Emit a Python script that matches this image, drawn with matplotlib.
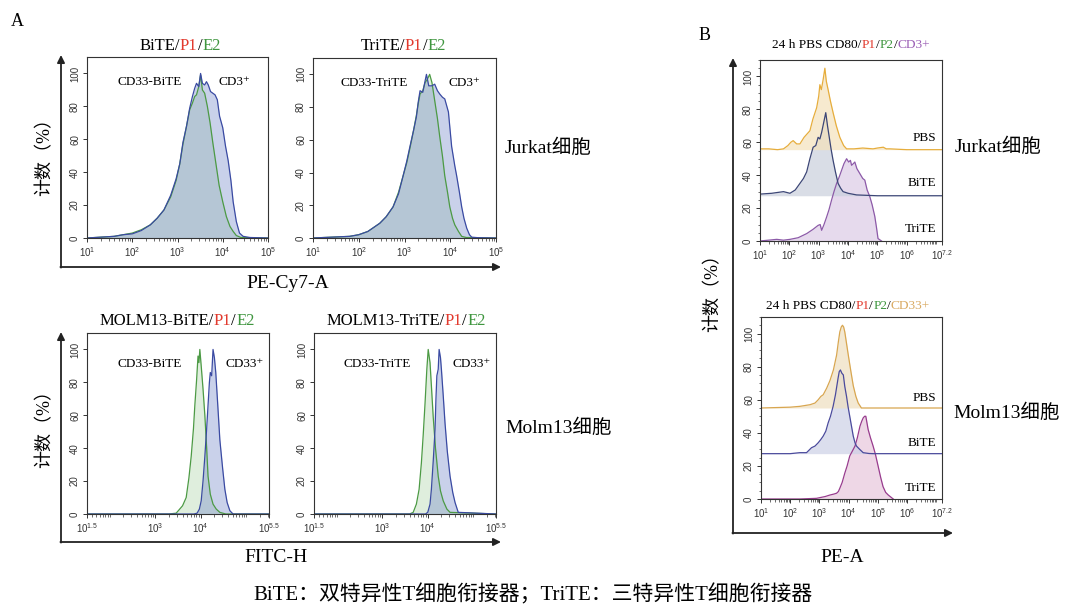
import numpy as np
import matplotlib
matplotlib.use("Agg")
import matplotlib.pyplot as plt
from matplotlib.ticker import FixedLocator, MultipleLocator

# ---- data (x in log10 units, y = count %) ----
# Panel A, Jurkat, BiTE
a1_blue_x = [1.0, 1.3, 1.6, 1.8, 2.0, 2.2, 2.4, 2.55, 2.7, 2.85, 2.97, 3.05, 3.12, 3.2, 3.27, 3.33, 3.38, 3.42, 3.47,
             3.51, 3.55, 3.6, 3.64, 3.68, 3.73, 3.78, 3.83, 3.88, 3.93, 4.0, 4.06, 4.12, 4.18, 4.23, 4.3, 4.37, 4.45,
             4.6, 5.0]
a1_blue_y = [0, 0.5, 1, 2, 2.5, 4.5, 8, 12, 17, 26, 36, 45, 58, 68, 79, 86, 91, 94, 92,
             100, 94, 93, 95, 93, 89, 88, 87, 84, 74, 67, 56, 47, 35, 22, 10, 3, 1, 0.3, 0]
a1_green_x = [1.0, 1.3, 1.6, 1.8, 2.0, 2.2, 2.4, 2.55, 2.7, 2.85, 2.97, 3.05, 3.12, 3.2, 3.27, 3.33, 3.38, 3.42, 3.47,
              3.51, 3.55, 3.6, 3.66, 3.72, 3.78, 3.85, 3.92, 4.0, 4.08, 4.16, 4.23, 4.3, 4.4, 5.0]
a1_green_y = [0, 0.5, 1, 2, 3, 5, 8, 12, 17, 25, 35, 45, 57, 68, 78, 82, 86, 87, 92,
              99, 90, 88, 80, 70, 58, 45, 32, 22, 13, 7, 4, 1.5, 0.3, 0]

# Panel A, Jurkat, TriTE
a2_blue_x = [1.0, 1.4, 1.8, 2.0, 2.2, 2.46, 2.6, 2.75, 2.87, 2.97, 3.05, 3.12, 3.2, 3.26, 3.3, 3.34, 3.4, 3.45, 3.48,
             3.53, 3.6, 3.66, 3.72, 3.77, 3.83, 3.88, 3.96, 4.03, 4.1, 4.14, 4.2, 4.25, 4.3, 4.36, 4.42, 4.47, 4.6, 5.0]
a2_blue_y = [0, 0.5, 1, 2, 4, 9, 13, 19, 27, 38, 47, 56, 66, 74, 83, 90, 89, 96, 100,
             93, 93, 94, 90, 88, 86, 85, 77, 56, 44, 38, 28, 19, 12, 6, 2, 0.5, 0.2, 0]
a2_green_x = [1.0, 1.4, 1.8, 2.0, 2.2, 2.46, 2.6, 2.75, 2.87, 2.97, 3.05, 3.12, 3.2, 3.26, 3.3, 3.34, 3.4, 3.45, 3.5,
              3.55, 3.6, 3.66, 3.72, 3.77, 3.83, 3.88, 3.94, 3.99, 4.05, 4.1, 4.18, 4.25, 4.35, 5.0]
a2_green_y = [0, 0.5, 1, 2, 4, 9, 13, 19, 28, 38, 46, 55, 66, 75, 82, 88, 90, 95, 97,
              100, 95, 84, 73, 62, 50, 38, 28, 19, 12, 8, 4, 1, 0.3, 0]

# Panel A, Molm13, BiTE
a3_green_x = [1.5, 3.3, 3.46, 3.6, 3.68, 3.74, 3.79, 3.84, 3.87, 3.91, 3.94, 3.96, 3.98, 4.01, 4.05, 4.09, 4.13, 4.16,
              4.21, 4.27, 4.34, 4.42, 4.55, 5.5]
a3_green_y = [0, 0, 0.5, 5, 10, 22, 35, 52, 66, 82, 96, 92, 100, 90, 76, 60, 40, 23, 12, 6, 3, 1, 0, 0]
a3_blue_x = [1.5, 3.85, 3.92, 3.97, 4.01, 4.05, 4.09, 4.13, 4.16, 4.19, 4.21, 4.24, 4.27, 4.3, 4.33, 4.37, 4.42, 4.48,
             4.53, 4.58, 4.64, 4.71, 5.5]
a3_blue_y = [0, 0, 0.5, 3, 8, 20, 35, 52, 66, 80, 86, 84, 100, 95, 86, 68, 45, 28, 15, 7, 2, 0, 0]

# Panel A, Molm13, TriTE
a4_green_x = [1.5, 3.6, 3.68, 3.75, 3.81, 3.86, 3.9, 3.94, 3.98, 4.01, 4.03, 4.05, 4.08, 4.12, 4.17, 4.23, 4.28, 4.34,
              4.42, 4.49, 5.5]
a4_green_y = [0, 0, 1, 6, 15, 31, 48, 67, 88, 100, 96, 92, 78, 59, 40, 23, 14, 8, 3, 1, 0]
a4_blue_x = [1.5, 3.95, 4.0, 4.05, 4.08, 4.12, 4.16, 4.18, 4.2, 4.23, 4.25, 4.28, 4.3, 4.34, 4.38, 4.43, 4.49, 4.55,
             4.6, 4.67, 5.5]
a4_blue_y = [0, 0, 1, 6, 15, 32, 51, 70, 84, 88, 100, 95, 88, 72, 55, 38, 23, 13, 7, 1, 0]

# Panel B, Jurkat (offset histograms)
b1_base = [55.5, 27.5, 0]
b1_pbs_x = [1.0, 1.3, 1.6, 1.8, 1.95, 2.05, 2.13, 2.25, 2.36, 2.5, 2.6, 2.7, 2.8, 2.93, 3.0, 3.04, 3.09, 3.15, 3.21,
            3.26, 3.32, 3.4, 3.49, 3.6, 3.72, 3.85, 3.95, 4.2, 4.5, 4.85, 5.0, 5.2, 5.3, 5.42, 6.0, 7.2]
b1_pbs_y = [56, 56, 55.5, 56, 58, 60, 61, 59, 59, 63, 65, 67, 74, 81, 88, 95, 92, 98, 105,
            97, 92, 85, 78, 70, 63, 58, 56, 56, 56.5, 56, 56.5, 57, 56, 56, 55.5, 55.5]
b1_bite_x = [1.0, 1.4, 1.8, 2.02, 2.2, 2.36, 2.48, 2.59, 2.7, 2.81, 2.9, 2.98, 3.04, 3.1, 3.17, 3.24, 3.3, 3.36,
             3.42, 3.49, 3.57, 3.66, 3.75, 3.83, 4.0, 4.29, 5.0, 6.0, 7.2]
b1_bite_y = [28.5, 29, 30, 29, 31, 35, 38, 42, 50, 57, 58, 63, 62, 66, 72, 78, 70, 63,
             56, 49, 42, 35, 32, 30, 29, 28, 27.5, 27.5, 27.5]
b1_trite_x = [1.0, 1.57, 1.8, 2.02, 2.3, 2.59, 2.8, 2.98, 3.05, 3.1, 3.18, 3.27, 3.35, 3.44, 3.52, 3.61, 3.7, 3.78,
              3.86, 3.95, 4.02, 4.08, 4.12, 4.18, 4.23, 4.3, 4.4, 4.5, 4.57, 4.65, 4.74, 4.82, 4.91, 4.97, 5.02, 5.14]
b1_trite_y = [0, 1, 0.5, 1, 2, 4.5, 7, 9.5, 10, 6.5, 10, 14.6, 19, 25, 30, 35, 39, 43,
              47, 50, 48, 49, 46, 47, 48, 44, 41, 38, 37, 31, 27, 22, 15, 8, 1.5, 0]

# Panel B, Molm13 (offset histograms)
b2_base = [55, 27.4, 0]
b2_pbs_x = [1.0, 2.0, 2.33, 2.68, 2.85, 2.96, 3.05, 3.13, 3.25, 3.36, 3.48, 3.59, 3.65, 3.7, 3.75, 3.79, 3.83, 3.87,
            3.93, 3.99, 4.08, 4.16, 4.25, 4.33, 4.44, 5.0, 7.2]
b2_pbs_y = [55, 55.5, 56, 57, 58, 60, 62, 63, 67, 71.5, 78, 87, 95, 101, 104, 105, 104, 101,
            94, 87, 77, 68.5, 62, 58, 55, 55, 55]
b2_bite_x = [1.0, 2.0, 2.33, 2.56, 2.73, 2.85, 2.96, 3.05, 3.13, 3.22, 3.3, 3.38, 3.47, 3.55, 3.64, 3.68, 3.72, 3.77,
             3.82, 3.87, 3.93, 3.98, 4.04, 4.1, 4.16, 4.22, 4.27, 4.38, 4.5, 4.7, 4.84, 7.2]
b2_bite_y = [27.4, 27.4, 28, 28, 31, 32, 34, 36, 38, 41, 46, 50, 56, 63, 73, 77, 78, 76,
             75, 68, 62, 56, 50, 44, 38, 34, 32, 30, 28, 27.5, 27.4, 27.4]
b2_trite_x = [1.0, 2.33, 2.9, 3.2, 3.36, 3.5, 3.59, 3.65, 3.7, 3.78, 3.87, 3.95, 4.04, 4.13, 4.22, 4.3, 4.39, 4.45,
              4.5, 4.55, 4.59, 4.63, 4.67, 4.75, 4.84, 4.92, 5.01, 5.1, 5.18, 5.27, 5.36, 5.53]
b2_trite_y = [0, 0, 0.4, 1.5, 2.4, 3, 3.5, 4.5, 6.5, 10, 15.6, 20, 26, 29, 32, 37, 44, 47,
              49, 50, 50, 46, 42, 37, 32, 27, 20, 13, 7.5, 4, 2.4, 0]

decades_a_top = [1, 2, 3, 4, 5]
decades_a_bottom = [1.5, 3, 4, 5.5]
decades_b = [1, 2, 3, 4, 5, 6, 7.2]
y_ticks = [0, 20, 40, 60, 80, 100]

# ---- styling ----
plt.rcParams['font.family'] = ['Liberation Sans', 'DejaVu Sans']
plt.rcParams['mathtext.fontset'] = 'custom'
plt.rcParams['mathtext.rm'] = 'Liberation Sans'
plt.rcParams['mathtext.default'] = 'rm'
SERIF = ['Liberation Serif', 'DejaVu Serif', 'Noto Sans CJK SC']
RED, GREEN = '#e23a2e', '#3f963f'
BLUE_LINE, GREEN_LINE = '#3a4aa2', '#4c9a44'

W, H = 1066, 609
fig = plt.figure(figsize=(W / 100, H / 100), dpi=100)

# background axes in pixel coordinates for labels and arrows
bg = fig.add_axes([0, 0, 1, 1], zorder=-1)
bg.set_xlim(0, W)
bg.set_ylim(H, 0)
bg.axis('off')


def px_axes(l, t, r, b):
    return fig.add_axes([l / W, 1 - b / H, (r - l) / W, (b - t) / H])


def style(ax, xmin, xmax, labelled, ymin_minor=False):
    ax.set_xlim(xmin, xmax)
    ax.set_ylim(0, 110)
    ax.set_xticks(labelled)
    ax.set_xticklabels([f'$10^{{{v:g}}}$' for v in labelled])
    minors = [np.log10(k) + n for n in range(int(np.floor(xmin)), int(np.ceil(xmax)) + 1)
              for k in range(1, 10)]
    minors = [m for m in minors if xmin <= m <= xmax and all(abs(m - v) > 1e-6 for v in labelled)]
    ax.xaxis.set_minor_locator(FixedLocator(minors))
    ax.set_yticks(y_ticks)
    if ymin_minor:
        ax.yaxis.set_minor_locator(MultipleLocator(5))
    ax.tick_params(which='major', length=3, width=0.7, labelsize=7, pad=2, colors='#333333')
    ax.tick_params(which='minor', length=1.8, width=0.5, colors='#333333')
    ax.tick_params(axis='y', labelrotation=90)
    for lab in ax.get_yticklabels():
        lab.set_va('center')
    for sp in ax.spines.values():
        sp.set_linewidth(0.8)
        sp.set_color('#333333')


def pair(ax, gx, gy, bx, by):
    ax.fill_between(gx, 0, gy, color='#8cc486', alpha=0.28, lw=0)
    ax.fill_between(bx, 0, by, color='#7186c8', alpha=0.38, lw=0)
    ax.plot(gx, gy, color=GREEN_LINE, lw=0.9)
    ax.plot(bx, by, color=BLUE_LINE, lw=0.9)


def stack(ax, curves, bases, colors):
    for (x, y), base, (line, fill) in zip(curves, bases, colors):
        ax.fill_between(x, base, y, color=fill, alpha=0.7, lw=0)
        ax.plot(x, y, color=line, lw=0.9)


titles = []


def multicolor(cx, cy, parts, size):
    t = bg.text(cx, cy, parts[0][0], color=parts[0][1], fontsize=size, family=SERIF, va='center')
    first = t
    for s, c in parts[1:]:
        t = bg.annotate(s, xy=(1, 0), xycoords=t, color=c, fontsize=size, family=SERIF, va='bottom')
    titles.append((first, t, cx))


# ---- panel A ----
ax1 = px_axes(87, 57, 268, 238)
pair(ax1, a1_green_x, a1_green_y, a1_blue_x, a1_blue_y)
style(ax1, 1, 5, decades_a_top)
ax1.text(0.17, 0.86, 'CD33-BiTE', transform=ax1.transAxes, family=SERIF, fontsize=9.5, va='center')
ax1.text(0.725, 0.86, 'CD3⁺', transform=ax1.transAxes, family=SERIF, fontsize=9.5, va='center')

ax2 = px_axes(313, 58, 496, 238)
pair(ax2, a2_green_x, a2_green_y, a2_blue_x, a2_blue_y)
style(ax2, 1, 5, decades_a_top)
ax2.text(0.148, 0.86, 'CD33-TriTE', transform=ax2.transAxes, family=SERIF, fontsize=9.5, va='center')
ax2.text(0.74, 0.86, 'CD3⁺', transform=ax2.transAxes, family=SERIF, fontsize=9.5, va='center')

ax3 = px_axes(87, 333, 269, 514)
pair(ax3, a3_green_x, a3_green_y, a3_blue_x, a3_blue_y)
style(ax3, 1.5, 5.5, decades_a_bottom)
ax3.text(0.17, 0.83, 'CD33-BiTE', transform=ax3.transAxes, family=SERIF, fontsize=9.5, va='center')
ax3.text(0.76, 0.83, 'CD33⁺', transform=ax3.transAxes, family=SERIF, fontsize=9.5, va='center')

ax4 = px_axes(314, 333, 496, 514)
pair(ax4, a4_green_x, a4_green_y, a4_blue_x, a4_blue_y)
style(ax4, 1.5, 5.5, decades_a_bottom)
ax4.text(0.16, 0.83, 'CD33-TriTE', transform=ax4.transAxes, family=SERIF, fontsize=9.5, va='center')
ax4.text(0.76, 0.83, 'CD33⁺', transform=ax4.transAxes, family=SERIF, fontsize=9.5, va='center')

multicolor(180, 46, [('BiTE/', 'black'), ('P1', RED), ('/', 'black'), ('E2', GREEN)], 12)
multicolor(403, 46, [('TriTE/', 'black'), ('P1', RED), ('/', 'black'), ('E2', GREEN)], 12)
multicolor(177, 321, [('MOLM13-BiTE/', 'black'), ('P1', RED), ('/', 'black'), ('E2', GREEN)], 12)
multicolor(406, 321, [('MOLM13-TriTE/', 'black'), ('P1', RED), ('/', 'black'), ('E2', GREEN)], 12)

# ---- panel B ----
ax5 = px_axes(760, 60, 942, 241)
stack(ax5, [(b1_trite_x, b1_trite_y), (b1_bite_x, b1_bite_y), (b1_pbs_x, b1_pbs_y)],
      [b1_base[2], b1_base[1], b1_base[0]],
      [('#8c5aa8', '#dccbe6'), ('#3c4676', '#c9cfdc'), ('#e6ad3c', '#f5e2bb')])
style(ax5, 1, 7.2, decades_b, ymin_minor=True)

ax6 = px_axes(761, 317, 942, 499)
stack(ax6, [(b2_trite_x, b2_trite_y), (b2_bite_x, b2_bite_y), (b2_pbs_x, b2_pbs_y)],
      [b2_base[2], b2_base[1], b2_base[0]],
      [('#983c8e', '#e8c6dc'), ('#4a4a9c', '#cdd0e6'), ('#d8a650', '#eedfbf')])
style(ax6, 1, 7.2, decades_b, ymin_minor=True)

for ax, ys in [(ax5, [0.57, 0.32, 0.066]), (ax6, [0.555, 0.31, 0.06])]:
    for name, yy in zip(['PBS', 'BiTE', 'TriTE'], ys):
        ax.text(0.967, yy, name, transform=ax.transAxes, family=SERIF, fontsize=9.5, ha='right', va='center')

multicolor(851, 45, [('24 h PBS CD80/', 'black'), ('P1', RED), ('/', 'black'), ('P2', GREEN), ('/', 'black'),
                     ('CD3+', '#9b5fb5')], 9.6)
multicolor(848, 306, [('24 h PBS CD80/', 'black'), ('P1', RED), ('/', 'black'), ('P2', GREEN), ('/', 'black'),
                      ('CD33+', '#d9aa62')], 9.6)

# ---- outer arrows ----
arrow = dict(arrowstyle='-|>', lw=1.3, color='#222222', mutation_scale=11, shrinkA=0, shrinkB=0)
for (x0, y0, y_top, x_end) in [(61, 267, 55, 501), (61, 542, 332, 501), (733, 533, 58, 953)]:
    bg.annotate('', xy=(x0, y_top), xytext=(x0, y0 + 0.6), arrowprops=arrow)
    bg.annotate('', xy=(x_end, y0), xytext=(x0 - 0.6, y0), arrowprops=arrow)

# ---- labels ----
bg.text(17, 22, 'A', family=SERIF, fontsize=13, ha='center', va='center')
bg.text(705, 35, 'B', family=SERIF, fontsize=13, ha='center', va='center')
for x, y in [(45, 153), (45, 425), (713, 288)]:
    bg.text(x, y, '计数（%）', family=SERIF, fontsize=13, rotation=90, ha='center', va='center')
bg.text(288, 283, 'PE-Cy7-A', family=SERIF, fontsize=14, ha='center', va='center')
bg.text(276, 558, 'FITC-H', family=SERIF, fontsize=14, ha='center', va='center')
bg.text(842, 557, 'PE-A', family=SERIF, fontsize=14, ha='center', va='center')
bg.text(505, 148, 'Jurkat细胞', family=SERIF, fontsize=14, ha='left', va='center')
bg.text(505, 428, 'Molm13细胞', family=SERIF, fontsize=14, ha='left', va='center')
bg.text(955, 147, 'Jurkat细胞', family=SERIF, fontsize=14, ha='left', va='center')
bg.text(953, 413, 'Molm13细胞', family=SERIF, fontsize=14, ha='left', va='center')
bg.text(533, 595, 'BiTE：双特异性T细胞衔接器；TriTE：三特异性T细胞衔接器', family=SERIF, fontsize=15,
        ha='center', va='center')

# centre the multicolour titles
fig.canvas.draw()
for first, last, cx in titles:
    x0 = first.get_window_extent().x0
    x1 = last.get_window_extent().x1
    fx, fy = first.get_position()
    first.set_x(fx + cx - (x0 + x1) / 2)

fig.savefig('out.png', dpi=100)
